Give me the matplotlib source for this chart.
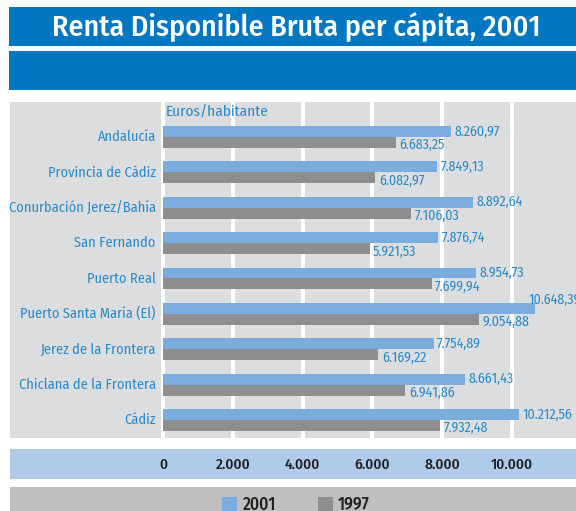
import matplotlib
matplotlib.use('Agg')
import matplotlib.pyplot as plt
from matplotlib.patches import Rectangle

# Datos (euros/habitante)
categorias = ['Andalucía', 'Provincia de Cádiz', 'Conurbación Jerez/Bahía', 'San Fernando',
              'Puerto Real', 'Puerto Santa María (El)', 'Jerez de la Frontera',
              'Chiclana de la Frontera', 'Cádiz']
valores_2001 = [8260.97, 7849.13, 8892.64, 7876.74, 8954.73, 10648.39, 7754.89, 8661.43, 10212.56]
valores_1997 = [6683.25, 6082.97, 7106.03, 5921.53, 7699.94, 9054.88, 6169.22, 6941.86, 7932.48]
etiquetas_2001 = ['8.260,97', '7.849,13', '8.892,64', '7.876,74', '8.954,73', '10.648,39',
                  '7.754,89', '8.661,43', '10.212,56']
etiquetas_1997 = ['6.683,25', '6.082,97', '7.106,03', '5.921,53', '7.699,94', '9.054,88',
                  '6.169,22', '6.941,86', '7.932,48']
ticks = [0, 2000, 4000, 6000, 8000, 10000]
ticks_txt = ['0', '2.000', '4.000', '6.000', '8.000', '10.000']

AZUL_OSCURO = '#0077c0'
AZUL_BARRA = '#7aacde'
GRIS_BARRA = '#8e8e91'
GRIS_FONDO = '#dcdddf'
AZUL_TEXTO = '#2a8ac8'
AZUL_CLARO = '#afcbea'
GRIS_LEYENDA = '#bebfc1'
OSCURO = '#231f20'

plt.rcParams['font.family'] = ['Fira Sans Condensed', 'DejaVu Sans']
plt.rcParams['font.stretch'] = 'condensed'

W, H = 576, 511
fig = plt.figure(figsize=(W / 100, H / 100), dpi=100)
fig.patch.set_facecolor('white')


def caja(x0, y0, x1, y1, color):
    # rectángulo en píxeles (origen arriba a la izquierda)
    fig.patches.append(Rectangle((x0 / W, 1 - y1 / H), (x1 - x0) / W, (y1 - y0) / H,
                                 transform=fig.transFigure, facecolor=color,
                                 edgecolor='none', zorder=-1))


def fx(x):
    return x / W


def fy(y):
    return 1 - y / H


# bandas
caja(9, 7, 576, 46.5, AZUL_OSCURO)
caja(9, 51, 576, 90.5, AZUL_OSCURO)
caja(10, 102, 160, 438, GRIS_FONDO)
caja(10, 449, 576, 479, AZUL_CLARO)
caja(10, 487, 576, 511, GRIS_LEYENDA)

fig.text(fx(296), fy(27), 'Renta Disponible Bruta per cápita, 2001', color='white',
         fontsize=21.5, fontweight=500, ha='center', va='center')

# ejes principales
ax_x0, ax_x1, ax_y0, ax_y1 = 160, 576, 102, 438
ax = fig.add_axes([fx(ax_x0), fy(ax_y1), (ax_x1 - ax_x0) / W, (ax_y1 - ax_y0) / H])
ax.set_facecolor(GRIS_FONDO)
ax.set_xlim(-86, 11833)
ax.set_ylim(8.51, -0.99)
for s in ax.spines.values():
    s.set_visible(False)
ax.set_xticks(ticks)
ax.set_xticklabels([])
ax.set_yticks([])
ax.tick_params(length=0)
ax.grid(axis='x', color='white', linewidth=2.9)
ax.set_axisbelow(True)

pos = list(range(len(categorias)))
h = 0.31
ax.barh([p - h / 2 for p in pos], valores_2001, height=h, color=AZUL_BARRA, zorder=3)
ax.barh([p + h / 2 for p in pos], valores_1997, height=h, color=GRIS_BARRA, zorder=3)

for p, v, t in zip(pos, valores_2001, etiquetas_2001):
    # la etiqueta más larga va encima de la barra, como en el original
    off = (-4.5, 6.5) if v > 10500 else (2.5, 0)
    ax.annotate(t, (v, p - h / 2), xytext=off, textcoords='offset points',
                ha='left', va='center', fontsize=10, color=AZUL_TEXTO, annotation_clip=False)
for p, v, t in zip(pos, valores_1997, etiquetas_1997):
    ax.annotate(t, (v, p + h / 2), xytext=(2.5, -2), textcoords='offset points',
                ha='left', va='center', fontsize=10, color=AZUL_TEXTO, annotation_clip=False)

for p, c in zip(pos, categorias):
    ax.annotate(c, (0, p), xycoords=('axes fraction', 'data'), xytext=(-3, 0),
                textcoords='offset points', ha='right', va='center', fontsize=10.3,
                color=AZUL_TEXTO, annotation_clip=False)

ax.text(86, -0.7, 'Euros/habitante', fontsize=11, color=AZUL_TEXTO,
        ha='left', va='center')

# etiquetas del eje en la banda azul clara
for v, t in zip(ticks, ticks_txt):
    xpix = 163 + v * 0.0349
    fig.text(fx(xpix), fy(465), t, fontsize=11, fontweight=500, color=OSCURO,
             ha='center', va='center')

# leyenda
caja(222, 497, 237, 511, AZUL_BARRA)
caja(318, 497, 333, 511, GRIS_BARRA)
fig.text(fx(243), fy(505), '2001', fontsize=12.5, fontweight=500, color=OSCURO,
         ha='left', va='center')
fig.text(fx(338), fy(505), '1997', fontsize=12.5, fontweight=500, color=OSCURO,
         ha='left', va='center')

fig.savefig('out.png', dpi=100)
